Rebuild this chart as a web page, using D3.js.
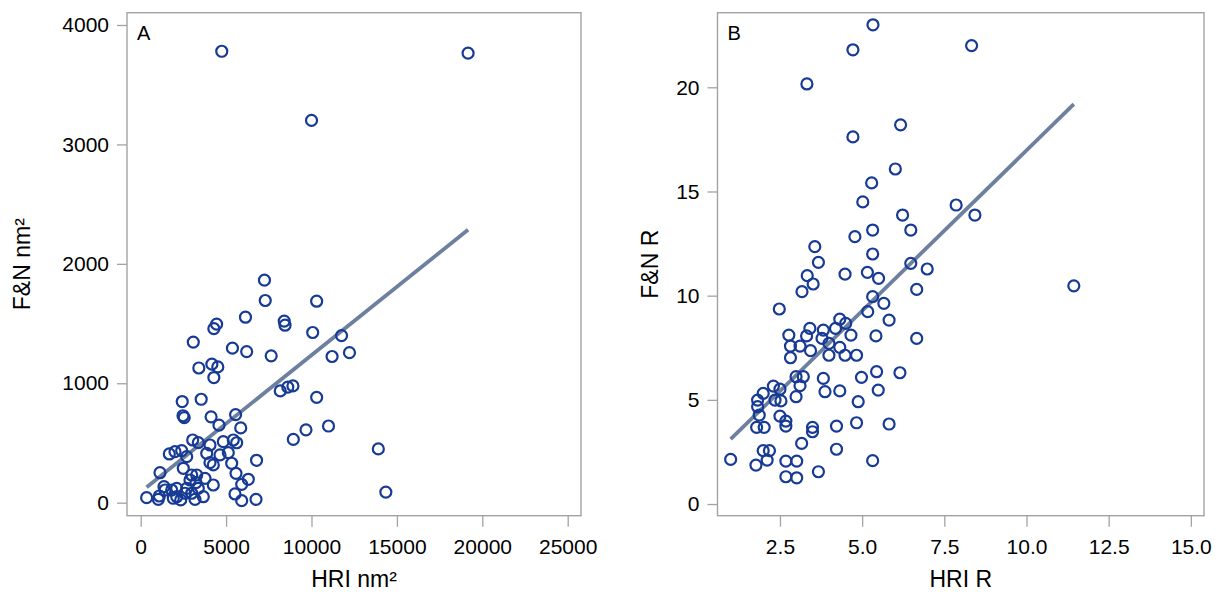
<!DOCTYPE html>
<html>
<head>
<meta charset="utf-8">
<script src="https://cdn.jsdelivr.net/npm/d3@7"></script>
<style>
body{margin:0;background:#fff;}
svg text{font-family:"Liberation Sans", Arial, sans-serif;}
</style>
</head>
<body>
<div id="chart"></div>
<script>
// Panel A: HRI nm² (x) vs F&N nm² (y)
var a_points = [
  [4746,3780],[19168,3764],[10001,3201],[7246,1863],[7292,1693],[10302,1687],[6135,1553],
  [4445,1495],[4283,1457],[8403,1521],[8450,1486],[3079,1345],[5371,1294],[6204,1265],
  [10070,1425],[7640,1230],[11760,1399],[11205,1224],[12223,1256],[3403,1128],[4167,1160],
  [4514,1137],[4283,1048],[8172,936],[8612,968],[8913,978],[10302,882],[3542,866],
  [2431,847],[2477,728],[2547,712],[4121,719],[5556,738],[4584,649],[5857,626],
  [9677,610],[10996,642],[8936,530],[13913,450],[14353,89],[6783,355],
  [1091,56],[1130,251],[1364,134],[1676,408],[2008,427],[2400,436],[2693,385],
  [3044,525],[3372,503],[4057,483],[3864,413],[4836,511],[5421,525],[5620,502],
  [5129,419],[4643,400],[5328,330],[5580,246],[6300,196],[5913,154],[5521,73],
  [5913,17],[6751,28],[4251,148],[4251,316],[4057,335],[3665,50],[3765,204],
  [3279,232],[2986,232],[3238,168],[3372,120],[2886,190],[2986,79],[3179,28],
  [2594,79],[2342,23],[2108,50],[1909,37],[2108,120],[2693,120],[1815,106],
  [1423,106],[1033,28],[2494,288],[347,42]
];
var a_x_ticks = [0,5000,10000,15000,20000,25000];
var a_y_ticks = [0,1000,2000,3000,4000];
var a_fit = [89, 0.1146]; // intercept, slope

// Panel B: HRI R (x) vs F&N R (y)
var b_points = [
  [3.56,12.35],[4.78,12.83],[5.32,12.0],[6.48,13.15],[5.32,13.15],[3.67,11.6],[4.48,11.03],
  [5.16,11.12],[5.50,10.83],[6.48,11.55],[6.98,11.28],[6.66,10.3],[3.33,10.96],[3.51,10.56],
  [3.17,10.19],[2.48,9.36],[5.32,9.95],[5.66,9.63],[5.17,9.23],[5.82,8.83],[4.32,8.87],
  [4.50,8.67],[4.19,8.43],[4.66,8.11],[5.42,8.07],[6.66,7.95],[2.77,8.11],[3.41,8.43],
  [3.31,8.07],[3.82,8.35],[3.78,7.95],[3.99,7.71],[2.82,7.58],[3.11,7.58],[3.43,7.36],
  [3.99,7.14],[4.32,7.52],[4.48,7.14],[4.83,7.14],[2.82,7.02],[5.44,6.35],[6.15,6.30],
  [4.98,6.08],[3.82,6.03],[2.99,6.11],[3.21,6.11],[3.11,5.68],[3.87,5.39],[4.32,5.43],
  [5.49,5.47],[2.99,5.15],[2.30,5.66],[2.50,5.51],[1.99,5.31],[1.82,4.99],[2.35,4.99],
  [2.53,4.95],[1.82,4.67],[4.88,4.91],[1.87,4.27],[2.50,4.22],[2.68,3.98],[2.68,3.74],
  [1.79,3.68],[2.02,3.68],[3.49,3.68],[3.49,3.47],[4.22,3.74],[4.83,3.90],[5.82,3.84],
  [3.16,2.91],[4.22,2.63],[1.99,2.56],[2.18,2.56],[2.11,2.11],[1.00,2.14],[1.77,1.87],
  [2.68,2.06],[3.01,2.06],[5.32,2.08],[3.67,1.55],[2.68,1.31],[3.01,1.26],
  [3.32,20.16],[4.72,21.8],[5.33,23.0],[8.33,22.0],[4.72,17.62],[6.17,18.2],[6.01,16.08],
  [5.29,15.41],[5.02,14.5],[7.86,14.35],[8.43,13.87],[6.23,13.87],[11.44,10.47]
];
var b_x_ticks = [2.5,5,7.5,10,12.5,15];
var b_y_ticks = [0,5,10,15,20];
var b_fit = [1.57, 1.54];

var width = 1222, height = 599;
var svg = d3.select("#chart").append("svg")
    .attr("width", width)
    .attr("height", height);

function scatter_panel_class(cfg){
    /*one framed scatter panel with its fit line*/
    var self = this;
    self.cfg = cfg;

    self.create = function(){
        var c = self.cfg;
        var g = svg.append("g");

        self.x = d3.scaleLinear().domain(c.x_domain).range([c.left, c.right]);
        self.y = d3.scaleLinear().domain(c.y_domain).range([c.bottom, c.top]);

        // axes, ticks point outwards from the frame
        var xa = g.append("g")
            .attr("transform", "translate(0," + c.bottom + ")")
            .call(d3.axisBottom(self.x).tickValues(c.x_ticks).tickSize(11).tickPadding(12)
                .tickFormat(c.x_format));
        var ya = g.append("g")
            .attr("transform", "translate(" + c.left + ",0)")
            .call(d3.axisLeft(self.y).tickValues(c.y_ticks).tickSize(10).tickPadding(8)
                .tickFormat(d3.format("d")));
        [xa, ya].forEach(function(a){
            a.select(".domain").remove();
            a.selectAll(".tick line").attr("stroke", "#a3a3a3").attr("stroke-width", 1.3);
            a.selectAll(".tick text").attr("fill", "#000").style("font-size", "21px");
        });

        // frame
        g.append("rect")
            .attr("x", c.left).attr("y", c.top)
            .attr("width", c.right - c.left).attr("height", c.bottom - c.top)
            .attr("fill", "none")
            .attr("stroke", "#a3a3a3")
            .attr("stroke-width", 1.4);

        // fit line over the range of the data
        var xs = d3.extent(c.points, function(d){ return d[0]; });
        g.append("line")
            .attr("x1", self.x(xs[0])).attr("y1", self.y(c.fit[0] + c.fit[1]*xs[0]))
            .attr("x2", self.x(xs[1])).attr("y2", self.y(c.fit[0] + c.fit[1]*xs[1]))
            .attr("stroke", "#6d80a0")
            .attr("stroke-width", 3.8);

        g.selectAll("circle.pt")
            .data(c.points)
            .enter()
            .append("circle")
                .attr("class", "pt")
                .attr("cx", function(d){ return self.x(d[0]); })
                .attr("cy", function(d){ return self.y(d[1]); })
                .attr("r", 5.5)
                .attr("fill", "none")
                .attr("stroke", "#173a94")
                .attr("stroke-width", 2.2);

        // panel letter
        g.append("text")
            .attr("x", c.left + 10).attr("y", c.top + 27)
            .style("font-size", "20px").attr("fill", "#000")
            .text(c.letter);

        // axis titles
        g.append("text")
            .attr("x", (c.left + c.right)/2).attr("y", 587)
            .attr("text-anchor", "middle")
            .style("font-size", "23px").attr("fill", "#000")
            .text(c.x_title);
        g.append("text")
            .attr("transform", "translate(" + c.y_title_x + "," + (c.top + c.bottom)/2 + ") rotate(-90)")
            .attr("text-anchor", "middle")
            .attr("dy", "0.35em")
            .style("font-size", "23px").attr("fill", "#000")
            .text(c.y_title);
    }
}

var panel_a = new scatter_panel_class({
    points: a_points, fit: a_fit,
    x_domain: [-802, 25779], y_domain: [-109, 4103],
    left: 127, right: 581, top: 12.7, bottom: 515.7,
    x_ticks: a_x_ticks, y_ticks: a_y_ticks, x_format: d3.format("d"),
    letter: "A", x_title: "HRI nm\u00b2", y_title: "F&N nm\u00b2", y_title_x: 22
});
panel_a.create();

var panel_b = new scatter_panel_class({
    points: b_points, fit: b_fit,
    x_domain: [0.60, 15.40], y_domain: [-0.56, 23.58],
    left: 717.5, right: 1204, top: 12.7, bottom: 515.7,
    x_ticks: b_x_ticks, y_ticks: b_y_ticks, x_format: d3.format(".1f"),
    letter: "B", x_title: "HRI R", y_title: "F&N R", y_title_x: 650
});
panel_b.create();
</script>
</body>
</html>
